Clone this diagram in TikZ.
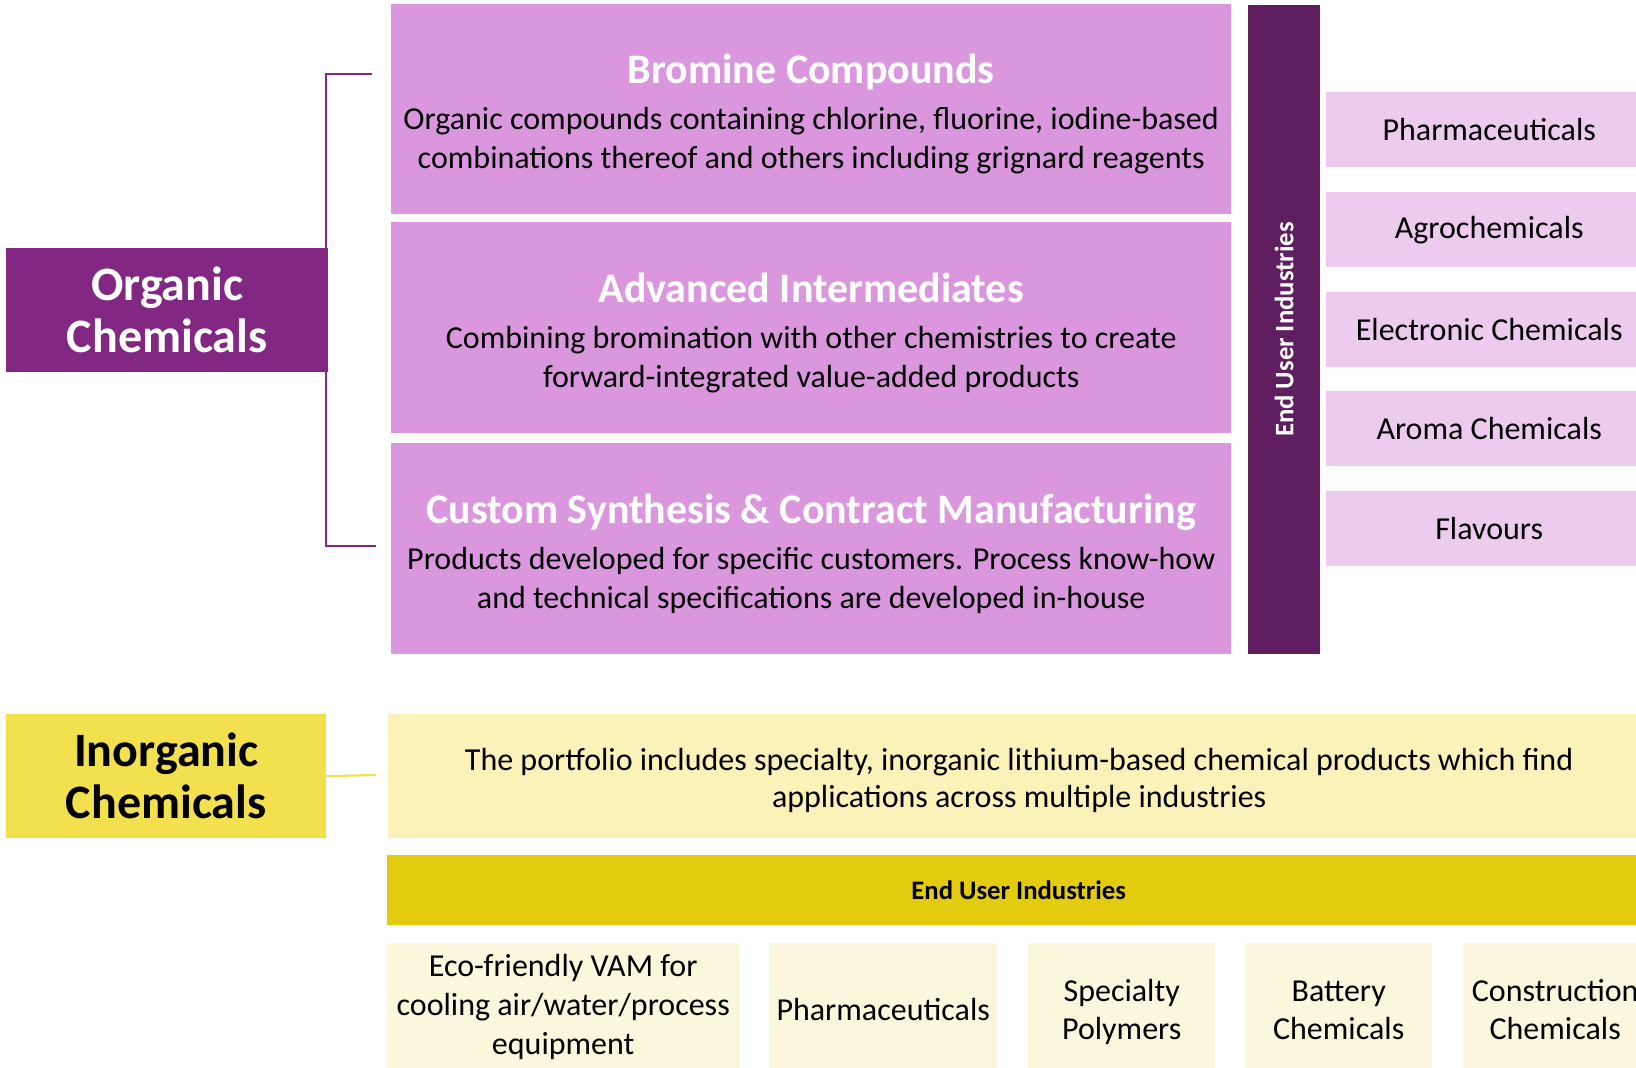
\documentclass[tikz,border=0pt]{standalone}
\usepackage{fontspec}
\setmainfont{Carlito}
\definecolor{orgpurple}{HTML}{822882}
\definecolor{eupurple}{HTML}{5F1E5F}
\definecolor{segpink}{HTML}{DB97DE}
\definecolor{indpink}{HTML}{EDCBEE}
\definecolor{inoryellow}{HTML}{F2E04F}
\definecolor{descyellow}{HTML}{FAF2B9}
\definecolor{baryellow}{HTML}{E3CC10}
\definecolor{indyellow}{HTML}{FBF7DC}
\newcommand{\segtitle}{\fontsize{42}{48}\selectfont\bfseries\color{white}}
\newcommand{\txtbody}{\fontsize{32}{39}\selectfont}
\newcommand{\bigtitle}{\fontsize{48}{52}\selectfont\bfseries}
\newcommand{\eufont}{\fontsize{26.7}{30}\selectfont\bfseries}
% struts to fix the line heights
\newcommand{\hstrut}[1]{\rule{0pt}{#1}}
\newcommand{\dstrut}[1]{\rule[-#1]{0pt}{0pt}}
\begin{document}
\begin{tikzpicture}[x=1pt, y=-1pt,
    cell/.style={anchor=north west, inner sep=0pt, align=center, font=\txtbody},
    segbox/.style={cell, fill=segpink},
    indbox/.style={cell, fill=indpink},
    ylwbox/.style={cell, fill=indyellow}]
    \useasboundingbox (0,0) rectangle (1636,1068);

    % organic side
    \coordinate (brtop) at (372,74);
    \coordinate (brbot) at (376,546);
    \draw[orgpurple, line width=2.2pt] (brtop) -| (326,310) |- (brbot);
    \node[cell, fill=orgpurple, text=white, font=\bigtitle, minimum width=322pt, minimum height=124pt] (org) at (6,248) {Organic\\Chemicals};

    \node[segbox, minimum width=840pt, minimum height=210pt] (bromine) at (391,4)
        {\hstrut{44pt}{\segtitle Bromine Compounds}\\[7pt]Organic compounds containing chlorine, fluorine, iodine-based\\combinations thereof and others including grignard reagents\dstrut{10pt}};
    \node[segbox, minimum width=840pt, minimum height=211pt] (advanced) at (391,222)
        {\hstrut{44pt}{\segtitle Advanced Intermediates}\\[7pt]Combining bromination with other chemistries to create\\forward-integrated value-added products\dstrut{10pt}};
    \node[segbox, minimum width=840pt, minimum height=211pt] (custom) at (391,443)
        {\hstrut{44pt}{\segtitle Custom Synthesis \& Contract Manufacturing}\\[7pt]Products developed for specific customers. Process know-how\\and technical specifications are developed in-house\dstrut{10pt}};

    \node[fill=eupurple, text=white, font=\eufont, inner sep=0pt,
        rotate=90, minimum width=649pt, minimum height=72pt] (orgeu) at (1284,329.5) {End User Industries};

    \node[indbox, minimum width=326pt, minimum height=75pt] (pharma) at (1326,92) {Pharmaceuticals};
    \node[indbox, minimum width=326pt, minimum height=75pt] (agro) at (1326,192) {Agrochemicals};
    \node[indbox, minimum width=326pt, minimum height=75pt] (electro) at (1326,292) {Electronic Chemicals};
    \node[indbox, minimum width=326pt, minimum height=75pt] (aroma) at (1326,391) {Aroma Chemicals};
    \node[indbox, minimum width=326pt, minimum height=75pt] (flavours) at (1326,491) {Flavours};

    % inorganic side
    \node[cell, fill=inoryellow, font=\bigtitle, minimum width=320pt, minimum height=124pt] (inorg) at (6,714) {Inorganic\\Chemicals};
    \coordinate (inend) at (376,775);
    \draw[inoryellow, line width=2.2pt] (inorg.east) -- (inend);

    \node[cell, fill=descyellow, font=\fontsize{32}{37.5}\selectfont, minimum width=1262pt, minimum height=124pt] (desc) at (388,714)
        {\hstrut{34.5pt}The portfolio includes specialty, inorganic lithium-based chemical products which find\\applications across multiple industries\dstrut{9pt}};
    \node[cell, fill=baryellow, font=\eufont, minimum width=1263pt, minimum height=70pt] (inoreu) at (387,855) {End User Industries};

    \node[ylwbox, minimum width=352pt, minimum height=127pt] (vam) at (387,943) {Eco-friendly VAM for\\cooling air/water/process\\equipment};
    \node[ylwbox, font=\fontsize{32}{37.5}\selectfont, minimum width=228pt, minimum height=127pt] (pharmb) at (769,943) {\hstrut{39pt}Pharmaceuticals\dstrut{11pt}};
    \node[ylwbox, font=\fontsize{32}{37.5}\selectfont, minimum width=187pt, minimum height=127pt] (polym) at (1028,943) {\hstrut{39pt}Specialty\\Polymers\dstrut{11pt}};
    \node[ylwbox, font=\fontsize{32}{37.5}\selectfont, minimum width=187pt, minimum height=127pt] (battery) at (1245,943) {\hstrut{39pt}Battery\\Chemicals\dstrut{11pt}};
    \node[ylwbox, font=\fontsize{32}{37.5}\selectfont, minimum width=184pt, minimum height=127pt] (constr) at (1463,943) {\hstrut{39pt}Construction\\Chemicals\dstrut{11pt}};
\end{tikzpicture}
\end{document}
